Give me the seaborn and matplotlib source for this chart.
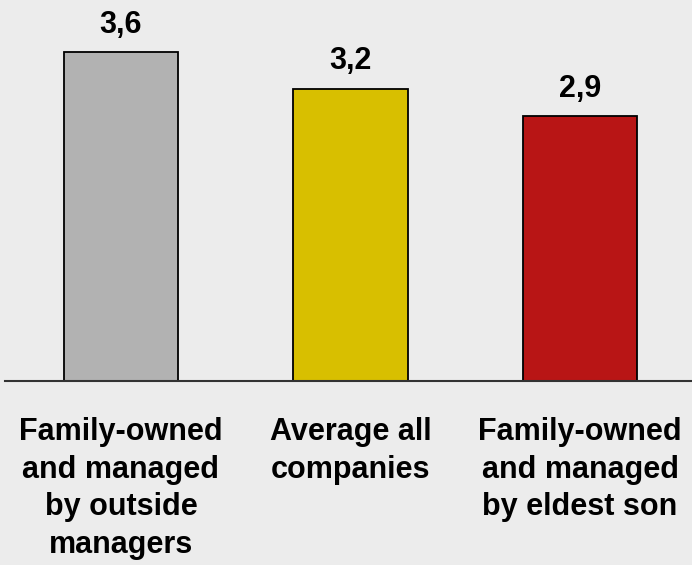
import pandas as pd
import seaborn as sns
import matplotlib.pyplot as plt

categories = ['Family-owned\nand managed\nby outside\nmanagers',
              'Average all\ncompanies',
              'Family-owned\nand managed\nby eldest son']
values = [3.6, 3.2, 2.9]
colors = ['#b2b2b2', '#d8bf00', '#b81515']

df = pd.DataFrame({'category': categories, 'value': values})

sns.set_style('white')
plt.rcParams['font.family'] = ['Liberation Sans', 'DejaVu Sans']
plt.rcParams['text.color'] = 'black'
plt.rcParams['xtick.color'] = 'black'

fig = plt.figure(figsize=(6.92, 5.65), dpi=100, facecolor='#ececec')
ax = fig.add_axes([5 / 692, 0.3257, 1 - 5 / 692, 0.647])
ax.set_facecolor('#ececec')

sns.barplot(data=df, x='category', y='value', hue='category', palette=colors,
            saturation=1, legend=False, width=0.5, edgecolor='black',
            linewidth=1.3, ax=ax)

ax.set_xlim(-0.5054, 2.488)
ax.set_ylim(0, 4)
ax.set_xlabel('')
ax.set_ylabel('')
ax.set_yticks([])
for side in ['top', 'right', 'left']:
    ax.spines[side].set_visible(False)
ax.spines['bottom'].set_color('#333333')
ax.spines['bottom'].set_linewidth(1.5)
ax.tick_params(axis='x', length=0, pad=26, labelcolor='black')
for lbl in ax.get_xticklabels():
    lbl.set_fontsize(22)
    lbl.set_fontweight('bold')
    lbl.set_linespacing(1.33)

for i, v in enumerate(values):
    ax.annotate(f'{v:.1f}'.replace('.', ','), (i, v), xytext=(0, 14),
                textcoords='offset points', ha='center', va='baseline',
                fontsize=22, fontweight='bold', color='black')

fig.savefig('out.png', dpi=100, facecolor=fig.get_facecolor())
